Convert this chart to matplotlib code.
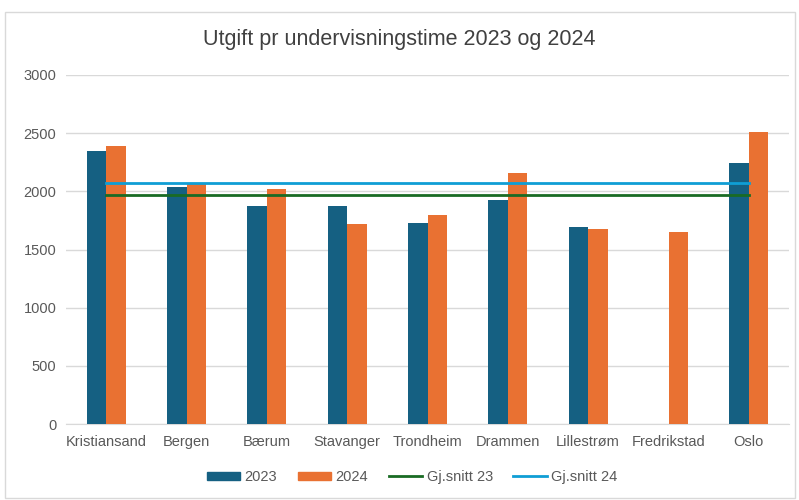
import matplotlib
matplotlib.use("Agg")
import matplotlib.pyplot as plt
import numpy as np
from matplotlib.patches import Rectangle
from matplotlib.lines import Line2D

cats = ["Kristiansand", "Bergen", "Bærum", "Stavanger", "Trondheim", "Drammen", "Lillestrøm", "Fredrikstad", "Oslo"]
v2023 = [2345, 2040, 1872, 1874, 1728, 1926, 1690, 0, 2244]
v2024 = [2392, 2070, 2023, 1718, 1795, 2155, 1679, 1651, 2513]
avg23 = 1972
avg24 = 2072
yticks = [0, 500, 1000, 1500, 2000, 2500, 3000]

plt.rcParams["font.family"] = ["Liberation Sans", "DejaVu Sans"]

c23 = "#156082"
c24 = "#E97132"
cg = "#196B24"
cb = "#0F9ED5"
txt = "#595959"

fig = plt.figure(figsize=(7.99, 5.0), dpi=100)
W, H = 799, 500
ax = fig.add_axes([66 / W, 1 - 424 / H, (789 - 66) / W, (424 - 75) / H])

x = np.arange(len(cats))
bw = 0.243
ax.bar(x - bw / 2, v2023, bw, color=c23, label="2023", zorder=3)
ax.bar(x + bw / 2, v2024, bw, color=c24, label="2024", zorder=3)
ax.plot([x[0], x[-1]], [avg23, avg23], color=cg, lw=2.0, zorder=4, label="Gj.snitt 23")
ax.plot([x[0], x[-1]], [avg24, avg24], color=cb, lw=2.0, zorder=4, label="Gj.snitt 24")

ax.set_xlim(-0.5, len(cats) - 0.5)
ax.set_ylim(0, 3000)
ax.set_yticks(yticks)
ax.set_yticklabels([str(t) for t in yticks])
ax.set_xticks(x)
ax.set_xticklabels(cats)
ax.grid(axis="y", color="#D9D9D9", lw=1, zorder=0)
for s in ["top", "right", "left"]:
    ax.spines[s].set_visible(False)
ax.spines["bottom"].set_color("#D9D9D9")
ax.tick_params(axis="both", length=0, colors=txt, labelsize=10.5)
ax.tick_params(axis="y", pad=7)
ax.tick_params(axis="x", pad=8)

fig.text(0.5, 1 - 40 / H, "Utgift pr undervisningstime 2023 og 2024", ha="center", va="center",
         fontsize=15.5, color="#404040")

handles = [Rectangle((0, 0), 1, 1, color=c23), Rectangle((0, 0), 1, 1, color=c24),
           Line2D([], [], color=cg, lw=2), Line2D([], [], color=cb, lw=2)]
fig.legend(handles, ["2023", "2024", "Gj.snitt 23", "Gj.snitt 24"], loc="center",
           bbox_to_anchor=(412 / W, 1 - 477 / H), ncol=4, frameon=False, fontsize=10.5,
           labelcolor=txt, handlelength=2.3, handleheight=0.5, handletextpad=0.3, columnspacing=1.4)

fig.patches.append(Rectangle((5 / W, 2 / H), 790 / W, (498 - 12) / H, transform=fig.transFigure,
                             fill=False, edgecolor="#D9D9D9", lw=1))

fig.savefig("out.png", dpi=100)
